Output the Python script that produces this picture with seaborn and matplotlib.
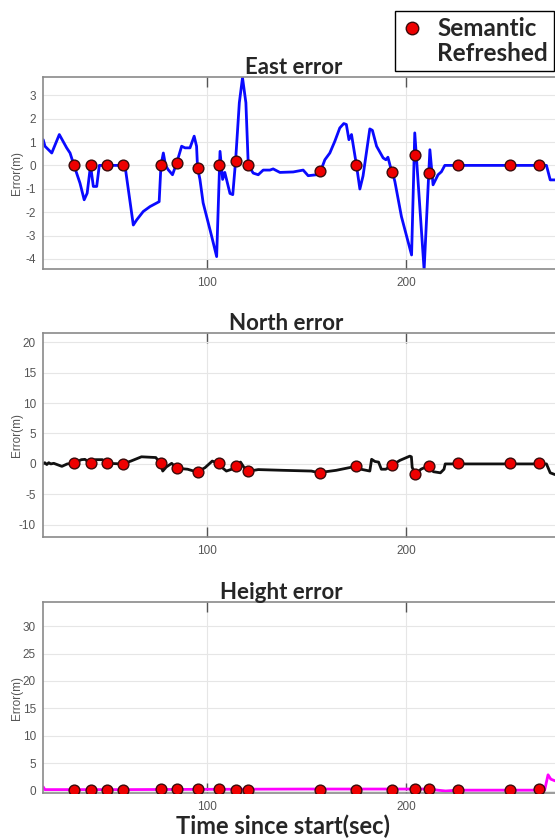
#!/usr/bin/env python3
"""
East / North / Height error vs time, with the semantic-refresh instants marked.
Output: out.png (555x839 px).
"""

import matplotlib
matplotlib.use("Agg")
import matplotlib.pyplot as plt
from matplotlib.lines import Line2D
import seaborn as sns

sns.set_style("whitegrid", {"grid.color": "#e6e6e6", "axes.edgecolor": "#8a8a8a"})
plt.rcParams["font.family"] = ["Liberation Sans", "DejaVu Sans"]
plt.rcParams["axes.unicode_minus"] = False

# ------------------------------------------------------------
# Data
# ------------------------------------------------------------
east_t = [17.7, 18.6, 22.0, 25.8, 29.5, 31.2, 33.2, 36.2, 38.3, 39.8, 41.5, 42.9,
          44.6, 45.9, 49.6, 58.0, 58.8, 63.0, 64.7, 68.0, 71.4, 74.7, 76.0, 76.9,
          78.1, 79.2, 80.5, 82.7, 84.8, 87.3, 89.0, 91.5, 93.6, 94.8, 95.3, 96.5,
          98.1, 102.3, 104.9, 106.6, 107.9, 109.0, 111.6, 113.0, 114.4, 116.3, 117.9,
          119.6, 120.8, 123.3, 125.8, 128.3, 131.7, 133.3, 136.7, 143.4, 148.4, 150.9,
          155.1, 157.1, 159.3, 161.8, 164.3, 166.8, 168.8, 170.1, 171.4, 172.7, 175.2,
          176.9, 178.5, 181.9, 183.2, 185.3, 188.6, 190.0, 191.0, 192.2, 193.3, 194.5,
          197.8, 202.9, 204.5, 209.2, 212.1, 213.7, 216.2, 217.9, 219.6, 226.0, 252.3,
          267.0, 270.7, 272.6, 275.0]
east_err = [1.1, 0.82, 0.53, 1.32, 0.75, 0.53, 0.0, -0.76, -1.47, -1.19, 0.0, -0.9,
            -0.9, 0.0, 0.0, 0.0, 0.0, -2.55, -2.33, -1.97, -1.76, -1.61, -1.55, 0.0,
            0.53, 0.0, -0.18, -0.4, 0.1, 0.82, 0.75, 0.75, 1.25, 0.82, -0.1, -0.6,
            -1.6, -3.0, -3.9, 0.6, -0.6, -0.3, -1.2, -1.25, 0.17, 2.68, 3.75,
            2.68, 0.0, -0.33, -0.4, -0.2, -0.2, -0.15, -0.3, -0.28, -0.2, -0.44,
            -0.4, -0.26, 0.24, 0.53, 1.03, 1.6, 1.79, 1.75, 1.1, 1.32, 0.0,
            -1.01, -0.45, 1.56, 1.5, 0.82, 0.32, 0.24, 0.35, -0.04, -0.3, -0.69,
            -2.19, -3.83, 1.39, -4.47, 0.67, -0.83, -0.4, -0.27, 0.0, 0.0, 0.0,
            0.0, 0.0, -0.62, -0.62]

north_t = [17.7, 18.5, 19.5, 20.5, 21.5, 23.0, 27.1, 29.8, 33.0, 36.9, 38.7, 41.3,
           44.0, 47.5, 49.4, 57.7, 61.8, 67.1, 74.3, 76.6, 77.8, 79.6, 82.3, 84.6,
           90.3, 95.2, 99.1, 102.7, 105.9, 108.0, 109.8, 112.5, 114.3, 116.9, 118.7,
           121.4, 125.8, 138.3, 152.5, 157.0, 159.7, 165.0, 172.1, 175.3, 177.4, 181.9,
           182.8, 184.5, 186.3, 187.7, 189.9, 193.1, 197.0, 202.0, 202.8, 203.2, 205.0,
           207.6, 210.8, 213.9, 217.4, 219.2, 219.8, 226.0, 252.3, 266.9, 270.7, 272.6,
           275.0]
north_err = [0.0, 0.2, -0.1, 0.2, 0.0, 0.1, -0.4, 0.0, 0.1, 0.7, 0.75, 0.1,
             0.7, 0.7, 0.1, 0.0, 0.47, 1.17, 1.05, 0.1, -1.17, -0.5, 0.1, -0.7,
             -0.87, -1.35, -0.6, 0.47, 0.1, -0.7, -1.17, -0.87, -0.4, 0.3, -0.6,
             -1.17, -0.93, -1.05, -1.17, -1.5, -1.28, -1.05, -0.58, -0.3, -0.87, -1.17,
             0.76, 0.4, 0.3, -0.87, -0.87, -0.23, 0.58, 1.28, 1.17, -0.58, -1.7,
             -0.87, -0.4, -1.28, -1.46, -0.87, 0.0, 0.0, 0.0, 0.0, 0.0, -1.46,
             -1.75]

height_t = [17.7, 18.5, 30.0, 60.0, 100.0, 150.0, 200.0, 212.0, 216.0, 220.0, 226.0,
            252.3, 266.9, 269.8, 271.5, 272.9, 275.0]
height_err = [0.7, 0.2, 0.2, 0.2, 0.25, 0.3, 0.3, 0.3, 0.1, -0.05, 0.1,
              0.1, 0.1, 0.1, 2.9, 2.1, 1.8]

# semantic refresh instants (same for all three panels)
refresh_t = [33.2, 41.5, 49.6, 58.0, 76.9, 84.8, 95.3, 106.2, 114.4, 120.8,
             157.1, 175.2, 193.3, 204.7, 211.6, 226.0, 252.3, 267.0]
refresh_east = [0.0, 0.0, 0.0, 0.0, 0.0, 0.1, -0.1, 0.0, 0.17, 0.0,
                -0.26, 0.0, -0.3, 0.46, -0.33, 0.0, 0.0, 0.0]
refresh_north = [0.1, 0.1, 0.1, 0.0, 0.1, -0.7, -1.35, 0.1, -0.4, -1.17,
                 -1.5, -0.3, -0.23, -1.7, -0.4, 0.1, 0.1, 0.1]
refresh_height = [0.2, 0.2, 0.2, 0.2, 0.35, 0.35, 0.35, 0.35, 0.2, 0.2,
                  0.2, 0.2, 0.2, 0.35, 0.35, 0.2, 0.2, 0.35]

# ------------------------------------------------------------
# Figure
# ------------------------------------------------------------
W, H = 555, 839
fig = plt.figure(figsize=(W / 100, H / 100), dpi=100)

PANELS = [
    # title, t, err, refresh y, colour, ylim, yticks, (top px, bottom px), title x
    ("East error", east_t, east_err, refresh_east, "#0a0aff",
     (-4.43, 3.78), list(range(-4, 4)), (77, 269), 0.49),
    ("North error", north_t, north_err, refresh_north, "#111111",
     (-12.0, 21.5), list(range(-10, 21, 5)), (333, 537), 0.475),
    ("Height error", height_t, height_err, refresh_height, "#ff00ff",
     (-0.42, 34.4), list(range(0, 31, 5)), (602, 793), 0.465),
]

title_font = {"family": ["Lato", "DejaVu Sans"], "weight": "bold", "size": 16}

for title, t, err, ref_y, colour, ylim, yticks, (top, bot), tx in PANELS:
    ax = fig.add_axes([43 / W, 1 - bot / H, (W - 43) / W, (bot - top) / H])

    sns.lineplot(x=t, y=err, ax=ax, color=colour, linewidth=2.0,
                 estimator=None, sort=False)
    sns.scatterplot(x=refresh_t, y=ref_y, ax=ax, color="#ee0000", s=60,
                    edgecolor="#3a0a0a", linewidth=1.0, zorder=5)

    ax.set_xlim(17.6, 275.0)
    ax.set_ylim(*ylim)
    ax.set_xticks([100, 200])
    ax.set_yticks(yticks)

    ax.grid(True, color="#e6e6e6", linewidth=0.8)
    ax.spines["right"].set_visible(False)
    for s in ("left", "top", "bottom"):
        ax.spines[s].set_color("#8a8a8a")
        ax.spines[s].set_linewidth(1.2)

    ax.tick_params(axis="x", direction="in", bottom=True, top=True, length=7,
                   width=1.0, color="#555555", labelsize=8.5, labelcolor="#555555",
                   pad=6)
    ax.tick_params(axis="y", length=0, labelsize=8.5, labelcolor="#555555", pad=5)

    ax.set_ylabel("Error(m)", fontsize=8.5, color="#555555")
    ax.yaxis.set_label_coords((23 - 43) / (W - 43), 0.5)
    ax.set_xlabel("")
    ax.set_title(title, fontdict=title_font, x=tx, pad=2)

fig.text(283 / W, 1 - 826 / H, "Time since start(sec)", ha="center", va="center",
         family=["Lato", "DejaVu Sans"], weight="bold", fontsize=17)

handles = [
    Line2D([], [], linestyle="none", marker="o", markersize=9,
           markerfacecolor="#ee0000", markeredgecolor="#3a0a0a", markeredgewidth=1.0),
    Line2D([], [], linestyle="none"),
]
leg = fig.legend(handles, ["Semantic", "Refreshed"], loc="upper right",
                 bbox_to_anchor=(554 / W, 1 - 11 / H), frameon=True,
                 fancybox=False, framealpha=1, edgecolor="black",
                 prop={"family": ["Lato", "DejaVu Sans"], "weight": "bold", "size": 17.5},
                 handlelength=0.9, handletextpad=0.6, borderpad=0.25,
                 labelspacing=0.08, borderaxespad=0)
leg.get_frame().set_linewidth(1.0)

fig.savefig("out.png", dpi=100)
